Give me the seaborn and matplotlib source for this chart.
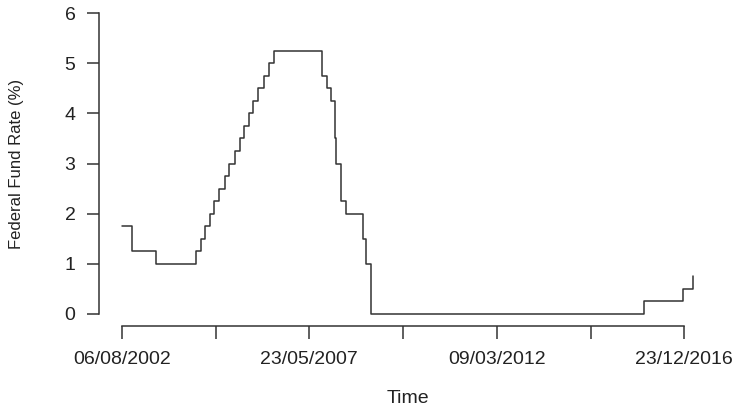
import matplotlib
matplotlib.use("Agg")
import matplotlib.dates as mdates
import matplotlib.pyplot as plt
import pandas as pd
import seaborn as sns


# dates when the target rate changed, and the new rate (%)
CHANGE_DATES = [
    "2002-08-06", "2002-11-06", "2003-06-25", "2004-06-30", "2004-08-10",
    "2004-09-21", "2004-11-10", "2004-12-14", "2005-02-02", "2005-03-22",
    "2005-05-03", "2005-06-30", "2005-08-09", "2005-09-20", "2005-11-01",
    "2005-12-13", "2006-01-31", "2006-03-28", "2006-05-10", "2006-06-29",
    "2007-09-18", "2007-10-31", "2007-12-11", "2008-01-22", "2008-01-30",
    "2008-03-18", "2008-04-30", "2008-10-08", "2008-10-29", "2008-12-16",
    "2015-12-16", "2016-12-14", "2017-03-15", "2017-03-16",
]
RATES = [
    1.75, 1.25, 1.00, 1.25, 1.50,
    1.75, 2.00, 2.25, 2.50, 2.75,
    3.00, 3.25, 3.50, 3.75, 4.00,
    4.25, 4.50, 4.75, 5.00, 5.25,
    4.75, 4.50, 4.25, 3.50, 3.00,
    2.25, 2.00, 1.50, 1.00, 0.00,
    0.25, 0.50, 0.75, 0.75,
]

TICK_START = "2002-08-06"
TICK_END = "2016-12-23"
TICK_LABELS = ["06/08/2002", "", "23/05/2007", "", "09/03/2012", "", "23/12/2016"]
Y_TICKS = [0, 1, 2, 3, 4, 5, 6]

df = pd.DataFrame({"date": pd.to_datetime(CHANGE_DATES), "rate": RATES})

sns.set_theme(style="white")
plt.rcParams["font.family"] = ["Liberation Sans", "DejaVu Sans"]

line_col = "#333333"
fig = plt.figure(figsize=(7.42, 4.09), dpi=100)
ax = fig.add_axes([99 / 742, 83 / 409, 617 / 742, 325 / 409])

sns.lineplot(data=df, x="date", y="rate", drawstyle="steps-post",
             color=line_col, linewidth=1.1, ax=ax)

# R style 4% padding around the data
x0 = mdates.date2num(df["date"].min())
x1 = mdates.date2num(df["date"].max())
pad = 0.04 * (x1 - x0)
ax.set_xlim(x0 - pad, x1 + pad)
ax.set_ylim(-0.24, 6.24)

tick_dates = pd.date_range(TICK_START, TICK_END, periods=len(TICK_LABELS))
ax.set_xticks(mdates.date2num(tick_dates))
ax.set_xticklabels(TICK_LABELS)
ax.set_yticks(Y_TICKS)
ax.set_yticklabels([str(v) for v in Y_TICKS])

for side in ["top", "right"]:
    ax.spines[side].set_visible(False)
ax.spines["left"].set_bounds(Y_TICKS[0], Y_TICKS[-1])
ax.spines["bottom"].set_bounds(mdates.date2num(tick_dates[0]), mdates.date2num(tick_dates[-1]))
for side in ["left", "bottom"]:
    ax.spines[side].set_color(line_col)
    ax.spines[side].set_linewidth(1.1)

ax.tick_params(axis="both", bottom=True, left=True, direction="out", length=9,
               width=1.1, color=line_col, labelsize=14, labelcolor="#222222")
ax.tick_params(axis="x", pad=9)
ax.tick_params(axis="y", pad=8)
ax.grid(False)

ax.set_xlabel("Time", fontsize=14, color="#222222", labelpad=16)
ax.set_ylabel("Federal Fund Rate (%)", fontsize=12, color="#222222", labelpad=29)

fig.savefig("out.png", dpi=100)
